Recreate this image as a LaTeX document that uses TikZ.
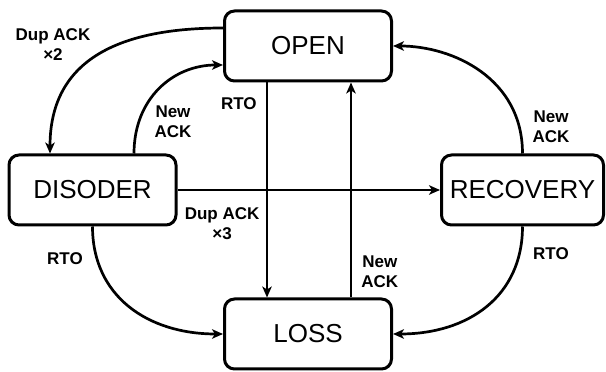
\documentclass[tikz,border=0pt]{standalone}
\usepackage{fontspec}
\setmainfont{Liberation Sans}
\usetikzlibrary{arrows.meta,positioning}
\tikzstyle{tcpstate}=[draw, line width=3pt, rounded corners=10pt,
  minimum width=167pt, minimum height=70pt, font=\fontsize{26}{31}\selectfont]
\tikzstyle{lbl}=[font=\fontsize{17}{20}\selectfont\bfseries, align=center,
  inner sep=1pt]
\tikzstyle{line}=[draw, line width=2.7pt,
  -{Stealth[length=11pt,width=9.5pt,inset=3pt]}]
\newcommand{\tcpnode}[2]{node (#1) [tcpstate] {#2}}

\begin{document}
\begin{tikzpicture}[x=1pt,y=1pt]
  \useasboundingbox (0,0) rectangle (606,372);

  % congestion states
  \path (308,326) \tcpnode{OPEN}{OPEN};
  \path (OPEN.center)+(0,-288) \tcpnode{LOSS}{LOSS};
  \path (OPEN.center)+(-215.5,-144) \tcpnode{DISODER}{DISODER};
  \path (OPEN.center)+(214.5,-144) node (RECOVERY) [tcpstate, minimum width=162pt] {RECOVERY};

  % straight transitions
  \path [line] ([xshift=-41pt]OPEN.south) -- node [lbl, pos=0.1, left=8pt] (RTOA) {RTO}
    ([xshift=-41pt]LOSS.north);
  \path [line] ([xshift=43pt]LOSS.north) -- node [lbl, pos=0.12, right=8pt] (NEWB) {New\\ACK}
    ([xshift=43pt]OPEN.south);
  \path [line] (DISODER.east) -- node [lbl, pos=0.17, below=15pt] (DUPTHREE) {Dup ACK\\×3}
    (RECOVERY.west);

  % curved transitions
  \path [line] ([yshift=18pt]OPEN.west) .. controls +(-110,0) and +(0,90) .. ([xshift=-42.5pt]DISODER.north);
  \path [line] ([xshift=41.5pt]DISODER.north) .. controls +(0,55) and +(-50,0) .. ([yshift=-19pt]OPEN.west);
  \path [line] (RECOVERY.north) .. controls +(0,75) and +(60,0) .. (OPEN.east);
  \path [line] (DISODER.south) .. controls +(0,-70) and +(-75,0) .. (LOSS.west);
  \path [line] (RECOVERY.south) .. controls +(0,-70) and +(75,0) .. (LOSS.east);

  % labels of curved transitions
  \node (DUPTWO) [lbl] at (53,327) {Dup ACK\\×2};
  \node (NEWA) [lbl] at (173,250) {New\\ACK};
  \node (NEWC) [lbl] at (551,245) {New\\ACK};
  \node (RTOB) [lbl] at (65,113) {RTO};
  \node (RTOC) [lbl] at (551,118) {RTO};
\end{tikzpicture}
\end{document}
